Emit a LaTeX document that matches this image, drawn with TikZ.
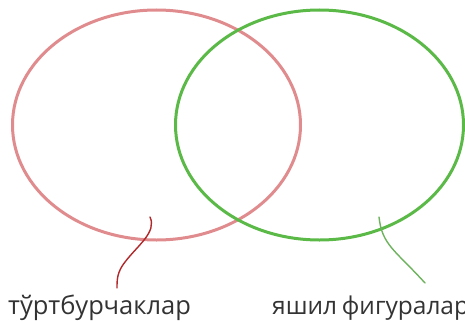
\documentclass[tikz,border=0pt]{standalone}
\usepackage{fontspec}
\setmainfont{Open Sans}
\usetikzlibrary{shapes.geometric}
\definecolor{rosec}{HTML}{E08C8E}
\definecolor{greenc}{HTML}{5BB947}
\definecolor{redlead}{HTML}{B0282A}
\definecolor{greenlead}{HTML}{6DB35E}
\tikzset{
  venn/.style={ellipse, draw, line width=3pt, minimum width=288pt, minimum height=230pt, inner sep=0pt},
  lead/.style={line width=1.4pt, line cap=round},
  lbl/.style={font=\fontsize{25.5}{28}\selectfont, text=black!80, inner sep=0pt, anchor=base west}
}
\begin{document}
\begin{tikzpicture}[x=1pt,y=-1pt]
\useasboundingbox (0,0) rectangle (465,321);
\clip (0,0) rectangle (465,321);
\node[venn, draw=rosec] (A) at (156.5,125) {};
\node[venn, draw=greenc] (B) at (319.5,125) {};
\coordinate (a1) at (150,217);
\coordinate (a2) at (117,288);
\coordinate (b1) at (379,217);
\coordinate (b2) at (425,283);
\draw[lead, redlead] (a1) .. controls (157,232) and (138,245) .. (125,262) .. controls (117,272) and (117,280) .. (a2);
\draw[lead, greenlead] (b1) .. controls (382,245) and (395,250) .. (b2);
\node[lbl] (la) at (8,314) {тўртбурчаклар};
\node[lbl, font=\fontsize{24.5}{27}\selectfont] (lb) at (272,314) {яшил\hspace{-1.5pt} фигуралар};
\end{tikzpicture}
\end{document}
